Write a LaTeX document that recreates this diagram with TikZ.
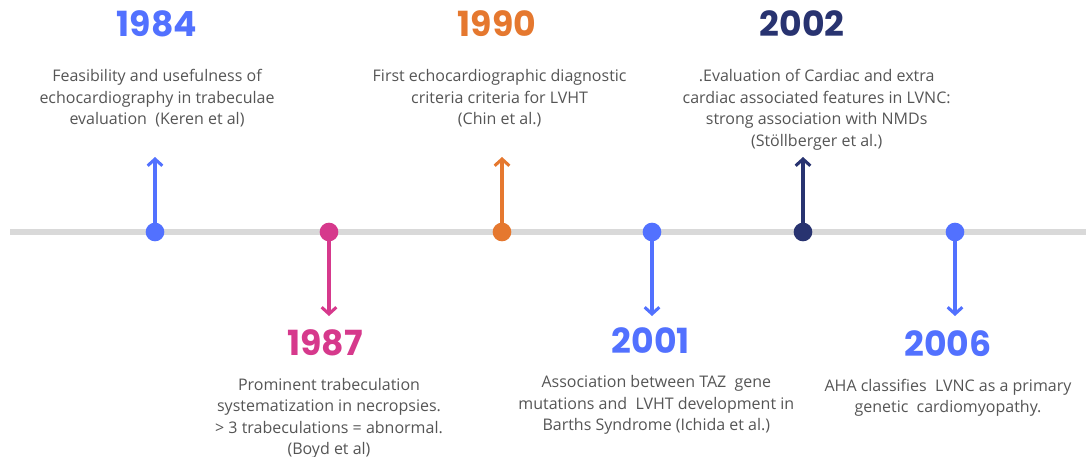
\documentclass[tikz,border=0pt]{standalone}
\usepackage{fontspec}
\setmainfont{Open Sans}
\newfontfamily\yearfont{Poppins}
\usetikzlibrary{arrows.meta, positioning}

\definecolor{tlblue}{HTML}{5271FF}
\definecolor{tlpink}{HTML}{D6398C}
\definecolor{tlorange}{HTML}{E5782F}
\definecolor{tlnavy}{HTML}{283370}
\definecolor{axisgray}{HTML}{D9D9D9}
\definecolor{txtgray}{HTML}{555555}

\tikzset{%
  >={Straight Barb[length=5pt, width=11pt]},
  % Specifications for style of nodes:
  dot/.style = {circle, fill=#1, minimum size=14pt, inner sep=0pt},
  year/.style = {inner sep=0pt, text=#1,
                 font=\yearfont\bfseries\fontsize{26}{30}\selectfont},
  info/.style = {inner sep=0pt, align=center, text=txtgray,
                 font=\fontsize{12}{16.1}\selectfont},
  stem/.style = {->, draw=#1, line width=2.3pt, line cap=round},
  axis/.style = {draw=axisgray, line width=4.5pt}
}

\begin{document}
\begin{tikzpicture}[x=0.75pt, y=-0.75pt]
  \useasboundingbox (0,0) rectangle (1086,457);

  % time axis
  \draw [axis] (10,232) -- (1086,232);

  % events on the axis
  \node (d1984) [dot=tlblue]   at (155,232) {};
  \node (d1987) [dot=tlpink]   at (329,232) {};
  \node (d1990) [dot=tlorange] at (502,232) {};
  \node (d2001) [dot=tlblue]   at (652,232) {};
  \node (d2002) [dot=tlnavy]   at (803,232) {};
  \node (d2006) [dot=tlblue]   at (955,232) {};

  % free ends of the stems
  \coordinate (t1984) at (155,157);
  \coordinate (t1987) at (329,316);
  \coordinate (t1990) at (502,157);
  \coordinate (t2001) at (652,316);
  \coordinate (t2002) at (803,157);
  \coordinate (t2006) at (955,316);

  \draw [stem=tlblue]   (d1984) -- (t1984);
  \draw [stem=tlpink]   (d1987) -- (t1987);
  \draw [stem=tlorange] (d1990) -- (t1990);
  \draw [stem=tlblue]   (d2001) -- (t2001);
  \draw [stem=tlnavy]   (d2002) -- (t2002);
  \draw [stem=tlblue]   (d2006) -- (t2006);

  % upper row
  \node (y1984) [year=tlblue]   at (157,24)   {1984};
  \node (i1984) [info, below=24pt of y1984]
        {Feasibility and usefulness of\\echocardiography in trabeculae\\evaluation~ (Keren et al)};

  \node (y1990) [year=tlorange] at (497,24)   {1990};
  \node (i1990) [info, below=24pt of y1990, xshift=2pt]
        {First echocardiographic diagnostic\\criteria criteria for LVHT\\(Chin et al.)};

  \node (y2002) [year=tlnavy]   at (802,24)   {2002};
  \node (i2002) [info, below=24pt of y2002, xshift=11pt]
        {.Evaluation of Cardiac and extra\\cardiac associated features in LVNC:\\strong association with NMDs\\(Stöllberger et al.)};

  % lower row
  \node (y1987) [year=tlpink]   at (325,343)  {1987};
  \node (i1987) [info, below=16pt of y1987, xshift=3pt]
        {Prominent trabeculation\\systematization in necropsies.\\\textgreater{} 3 trabeculations = abnormal.\\(Boyd et al)};

  \node (y2001) [year=tlblue]   at (651,341)  {2001};
  \node (i2001) [info, below=16pt of y2001, xshift=4pt]
        {Association between TAZ~ gene\\mutations and~ LVHT development in\\Barths Syndrome (Ichida et al.)};

  \node (y2006) [year=tlblue]   at (948,344)  {2006};
  \node (i2006) [info, below=16pt of y2006]
        {AHA classifies~ LVNC as a primary\\genetic~ cardiomyopathy.};

\end{tikzpicture}
\end{document}
